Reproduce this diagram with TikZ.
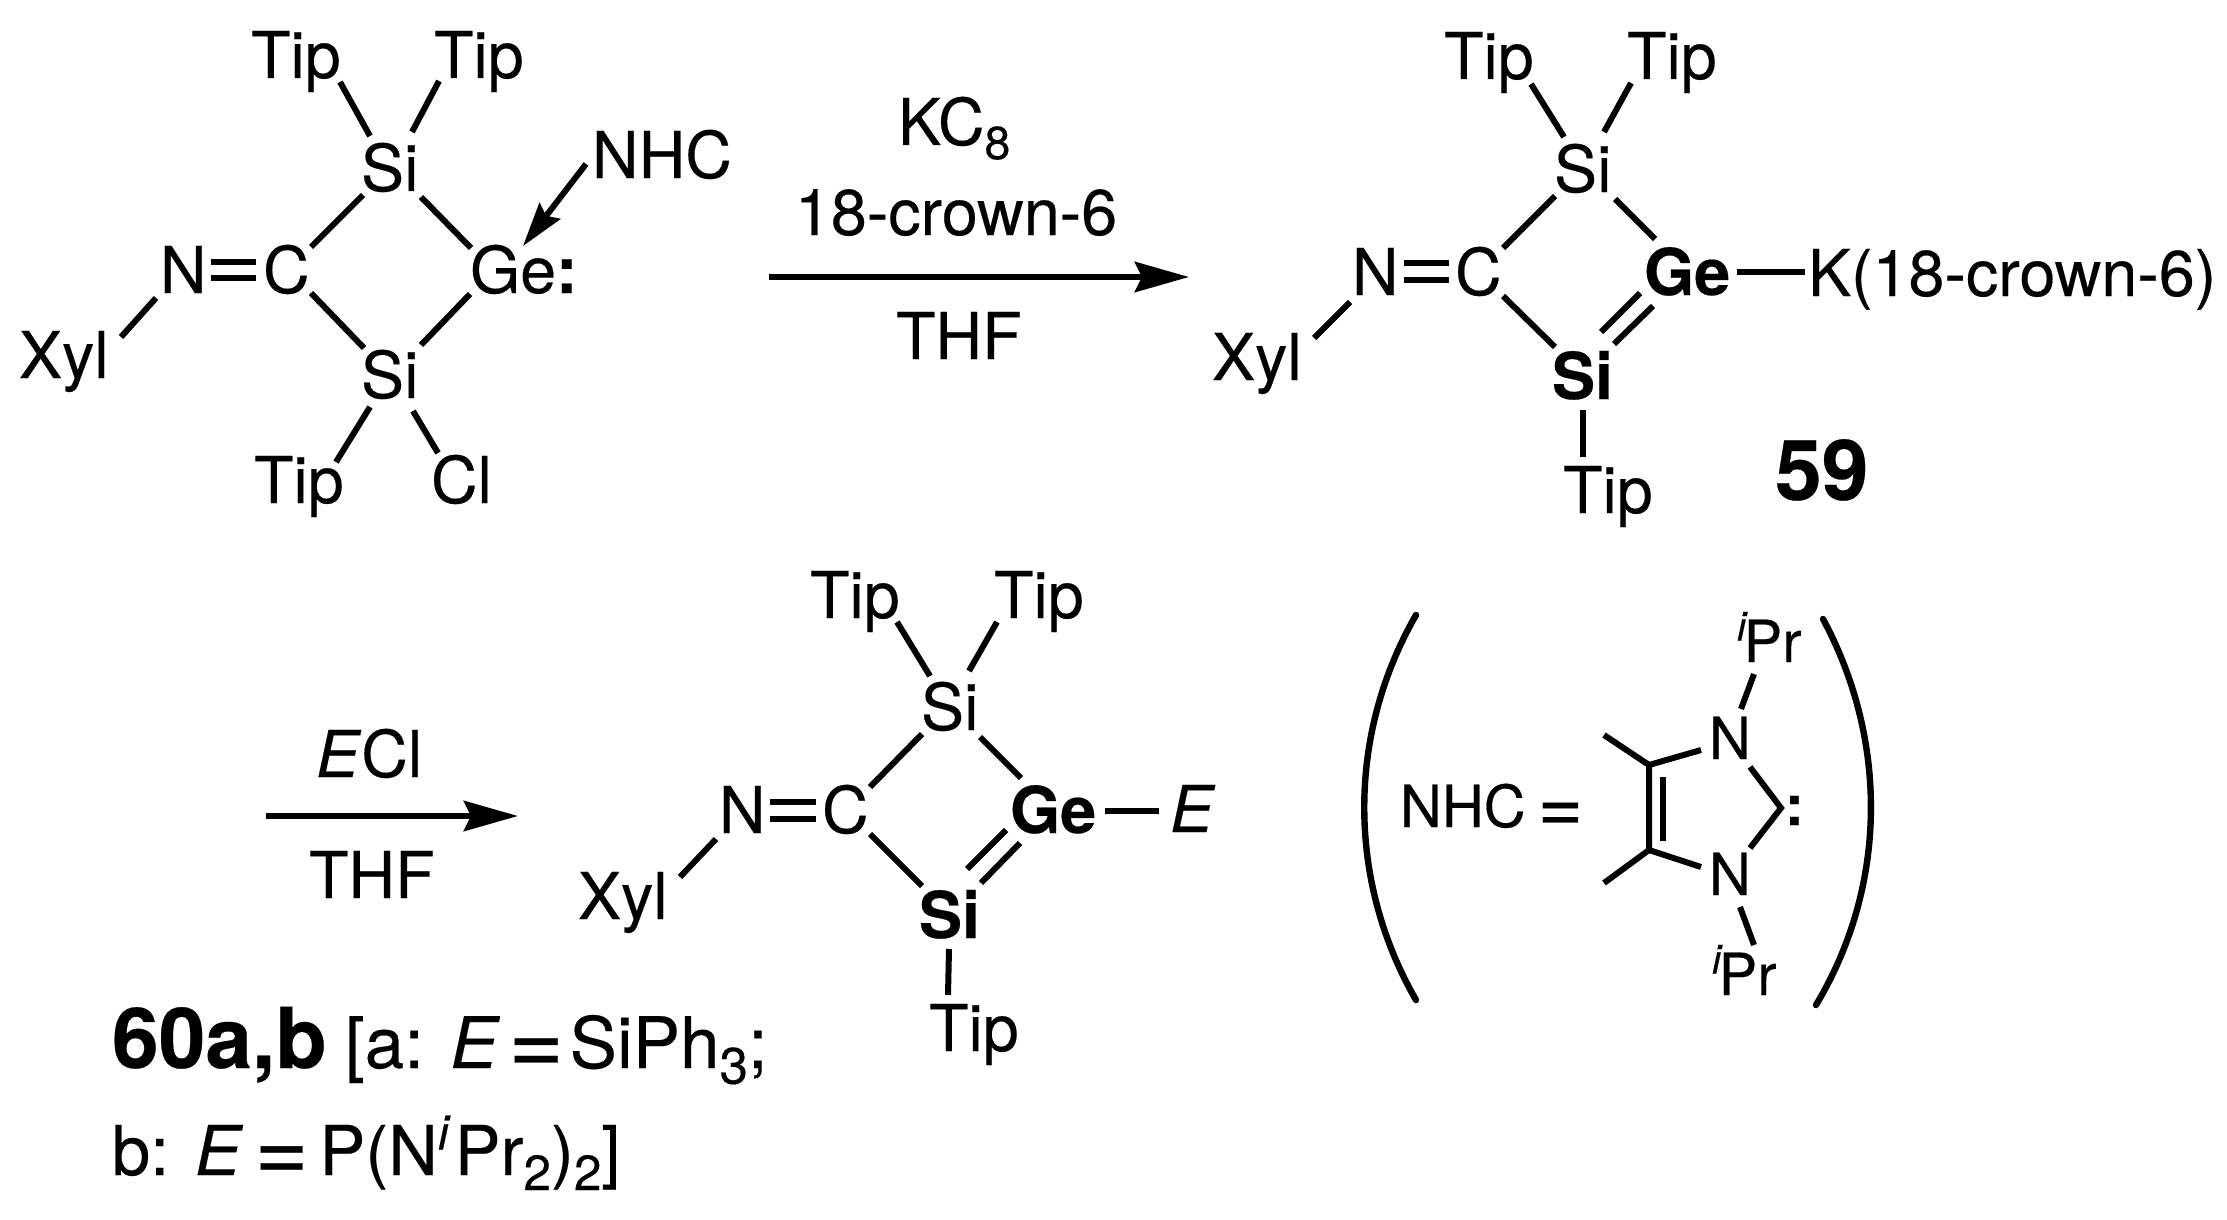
\documentclass[tikz,border=0pt]{standalone}
\usepackage{fontspec}
\usepackage{graphicx}
\setmainfont{TeX Gyre Heros}[FakeBold=0.3]
\usetikzlibrary{arrows.meta}
\newcommand\subs[1]{\raisebox{-0.22em}{\scalebox{0.72}{#1}}}
\newcommand\supi{\raisebox{0.37em}{\scalebox{0.7}{\textit{i}}}}
\newcommand\eqs[2]{\hspace{#1em}\makebox[.58em][c]{\raisebox{-0.09em}{\scalebox{1.35}{=}}}\hspace{#2em}}
\newcommand\xyl{{\addfontfeature{Kerning=Off}Xyl}}
\newcommand\bnd[6]{\draw[bond] ([shift={(#2,#3)}]#1.base west) -- ([shift={(#5,#6)}]#4.base west);}
\tikzset{
  lab/.style={anchor=base west,inner sep=0pt,outer sep=0pt,font=\fontsize{32.3}{36}\selectfont},
  labb/.style={lab,font=\fontsize{32.3}{36}\selectfont\bfseries},
  labs/.style={lab,font=\fontsize{29}{32}\selectfont},
  labl/.style={lab,font=\fontsize{34.4}{40}\selectfont},
  labm/.style={lab,font=\fontsize{35.5}{40}\selectfont},
  labh/.style={lab,font=\fontsize{42}{46}\selectfont\bfseries},
  bond/.style={line width=3pt,line cap=butt,line join=miter,black},
  rxn/.style={line width=3.4pt,-{Stealth[length=27pt,width=15pt,inset=3.5pt]}},
  dative/.style={line width=3pt,-{Stealth[length=22pt,width=13pt,inset=3pt]}},
  brace/.style={line width=3.2pt,line cap=round}
}
\begin{document}
\begin{tikzpicture}[x=0.5pt,y=-0.5pt]
\path[fill=white,use as bounding box] (0,0) rectangle (2227,1220);
% --- molecule 1
\node[lab] (tipa) at (251,78) {Tip};
\node[lab] (tipb) at (434,78) {Tip};
\node[lab] (sia) at (361,191) {Si};
\node[lab] (nhc) at (592,178) {NHC};
\node[lab] (na) at (160,293) {N};
\node[lab] (ca) at (263,293) {C};
\node[lab] (gea) at (470,293) {Ge};
\node[labb] (cola) at (556,293) {:};
\node[lab] (xyla) at (19,378) {\xyl};
\node[lab] (sib) at (361,398) {Si};
\node[lab] (tipc) at (254,503) {Tip};
\node[lab] (cla) at (431,503) {Cl};
\bnd{xyla}{102}{-41}{na}{-4}{5}
\bnd{na}{51}{-31}{ca}{-7}{-31}
\bnd{na}{51}{-15}{ca}{-7}{-15}
\bnd{sia}{2}{4}{ca}{48}{-46}
\bnd{sia}{60}{6}{gea}{1}{-45}
\bnd{ca}{48}{0}{sib}{3}{-50}
\bnd{gea}{0}{1}{sib}{60}{-53}
\bnd{sia}{9}{-55}{tipa}{89}{4}
\bnd{sia}{51}{-59}{tipb}{5}{3}
\bnd{sib}{9}{9}{tipc}{82}{-41}
\bnd{sib}{52}{13}{cla}{7}{-50}
\draw[bond,dative] ([shift={(-6,-14)}]nhc.base west) -- ([shift={(53,-47)}]gea.base west);
% --- arrow 1
\coordinate (ara) at (769,277);
\coordinate (arb) at (1189,277);
\draw[bond,rxn] (ara) -- (arb);
\node[lab] (kc) at (898,145) {KC\subs{8}};
\node[lab] (crown) at (795,235) {18-crown-6};
\node[lab] (thfa) at (896,359) {THF};
% --- molecule 2
\node[lab] (tipd) at (1444,79) {Tip};
\node[lab] (tipe) at (1627,79) {Tip};
\node[lab] (sic) at (1554,192) {Si};
\node[lab] (nb) at (1352,295) {N};
\node[lab] (cb) at (1455,295) {C};
\node[labb] (geb) at (1644,295) {Ge};
\node[lab] (kn) at (1808,296) {K(18-crown-6)};
\node[labb] (sid) at (1552,399) {Si};
\node[lab] (xylb) at (1212,380) {\xyl};
\node[lab] (tipf) at (1563,513) {Tip};
\node[labh] (n59) at (1775,500) {59};
\bnd{xylb}{102}{-42}{nb}{-2}{7}
\bnd{nb}{52}{-32}{cb}{-6}{-32}
\bnd{nb}{52}{-15}{cb}{-6}{-15}
\bnd{sic}{1}{4}{cb}{48}{-47}
\bnd{sic}{61}{7}{geb}{11}{-56}
\bnd{cb}{48}{1}{sid}{3}{-52}
\bnd{geb}{-4}{-2}{sid}{49}{-67}
\bnd{geb}{9}{11}{sid}{62}{-55}
\bnd{sic}{10}{-55}{tipd}{87}{5}
\bnd{sic}{50}{-60}{tipe}{4}{4}
\bnd{sid}{31}{11}{tipf}{20}{-56}
\bnd{geb}{93}{-23}{kn}{-3}{-24}
% --- arrow 2
\coordinate (arc) at (266,816);
\coordinate (ard) at (518,816);
\draw[bond,rxn] (arc) -- (ard);
\node[lab] (ecl) at (316,777) {\textit{E}Cl};
\node[lab] (thfb) at (309,898) {THF};
% --- molecule 3
\node[lab] (tipg) at (810,618) {Tip};
\node[lab] (tiph) at (994,618) {Tip};
\node[lab] (sie) at (921,730) {Si};
\node[lab] (nc) at (719,833) {N};
\node[lab] (cc) at (822,833) {C};
\node[labb] (gec) at (1010,833) {Ge};
\node[lab] (ee) at (1170,832) {\textit{E}};
\node[lab] (xylc) at (578,919) {\xyl};
\node[labb] (sif) at (919,938) {Si};
\node[lab] (tipi) at (929,1051) {Tip};
\bnd{xylc}{102}{-42}{nc}{-3}{6}
\bnd{nc}{51}{-31}{cc}{-6}{-31}
\bnd{nc}{51}{-14}{cc}{-6}{-14}
\bnd{sie}{1}{4}{cc}{48}{-46}
\bnd{sie}{59}{7}{gec}{11}{-55}
\bnd{cc}{48}{1}{sif}{3}{-52}
\bnd{gec}{-4}{-3}{sif}{48}{-69}
\bnd{gec}{10}{10}{sif}{62}{-55}
\bnd{sie}{9}{-54}{tipg}{87}{4}
\bnd{sie}{48}{-59}{tiph}{3}{4}
\bnd{sif}{30}{11}{tipi}{19}{-56}
\bnd{gec}{95}{-22}{ee}{-11}{-21}
% --- captions
\node[labh] (cap) at (112,1068) {60a,b};
\node[labm] (capa) at (345,1068) {[a: \textit{E}\eqs{.22}{.18}SiPh\subs{3};};
\node[labl] (capb) at (112,1175) {b: \textit{E}\eqs{.27}{.26}P(N\supi\hspace{.06em}Pr\subs{2})\subs{2}]};
% --- NHC definition
\node[labs] (def) at (1400,827) {NHC\hspace{.31em}\makebox[.58em][c]{\raisebox{-0.09em}{\scalebox{1.35}{=}}}};
\node[labs] (nd) at (1709,759) {N};
\node[labs] (ne) at (1709,895) {N};
\node[labs] (ipra) at (1737,662) {\supi\hspace{-.07em}Pr};
\node[labs] (iprb) at (1712,995) {\supi\hspace{-.07em}Pr};
\node[lab,font=\fontsize{28}{30}\selectfont\bfseries] (lp) at (1785,825) {:};
\coordinate (cf) at (1649,765);
\coordinate (cg) at (1649,850);
\coordinate (cfi) at (1663,777);
\coordinate (cgi) at (1663,841);
\coordinate (mef) at (1604,735);
\coordinate (meg) at (1604,883);
\coordinate (ch) at (1781,808);
\draw[bond] (mef) -- (cf) -- (cg) -- (meg);
\draw[bond] (cfi) -- (cgi);
\draw[bond] (cf) -- ([shift={(-8,-9)}]nd.base west);
\draw[bond] (cg) -- ([shift={(-8,-28)}]ne.base west);
\draw[bond] ([shift={(41,8)}]nd.base west) -- (ch) -- ([shift={(41,-47)}]ne.base west);
\bnd{ipra}{17}{12}{nd}{32}{-50}
\bnd{ne}{31}{12}{iprb}{42}{-50}
% --- parentheses
\coordinate (pla) at (1416,615);
\coordinate (plb) at (1416,1000);
\coordinate (pra) at (1823,619);
\coordinate (prb) at (1816,1005);
\draw[brace] (pla) .. controls (1347,735) and (1347,880) .. (plb);
\draw[brace] (pra) .. controls (1888,740) and (1888,885) .. (prb);
\end{tikzpicture}
\end{document}
